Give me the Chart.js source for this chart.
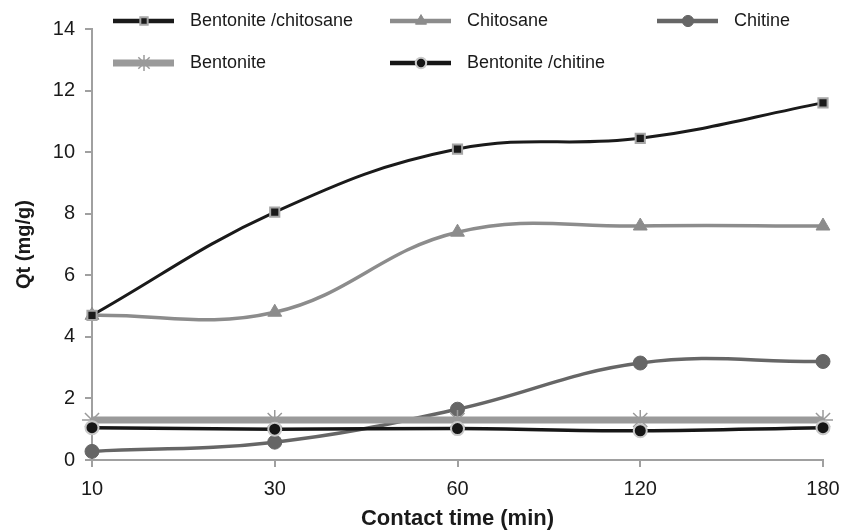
<!DOCTYPE html>
<html>
<head>
<meta charset="utf-8">
<script src="https://cdn.jsdelivr.net/npm/chart.js@4/dist/chart.umd.min.js"></script>
<style>
  html, body { margin: 0; padding: 0; background: #fff; }
  #wrap { width: 843px; height: 532px; position: relative; }
</style>
</head>
<body>
<div id="wrap"><canvas id="c" width="843" height="532"></canvas></div>
<script>
// Contact time categories (min)
const contactTimes = ['10', '30', '60', '120', '180'];

// Adsorbed quantity Qt (mg/g) per adsorbent
const bentoniteChitosane = [4.7, 8.05, 10.1, 10.45, 11.6];
const chitosane = [4.7, 4.8, 7.4, 7.6, 7.6];
const chitine = [0.28, 0.58, 1.65, 3.15, 3.2];
const bentonite = [1.3, 1.3, 1.3, 1.3, 1.3];
const bentoniteChitine = [1.05, 1.0, 1.02, 0.95, 1.05];

const FONT = '"Liberation Sans", Arial, sans-serif';

// Legend laid out in a fixed grid over the top of the plot
const legendSlots = [
  { x: 113, y: 21 }, { x: 390, y: 21 }, { x: 657, y: 21 },
  { x: 113, y: 63 }, { x: 390, y: 63 }
];

function drawMarker(ctx, ds, x, y, scale) {
  const opts = {
    pointStyle: ds.pointStyle, radius: ds.pointRadius * scale, rotation: 0,
    borderWidth: ds.pointBorderWidth
  };
  ctx.save();
  ctx.fillStyle = ds.pointBackgroundColor;
  ctx.strokeStyle = ds.pointBorderColor;
  ctx.lineWidth = ds.pointBorderWidth;
  Chart.helpers.drawPoint(ctx, opts, x, y);
  ctx.restore();
}

const gridLegend = {
  id: 'gridLegend',
  afterDraw(chart) {
    const ctx = chart.ctx;
    chart.data.datasets.forEach((ds, i) => {
      const s = legendSlots[i];
      ctx.save();
      ctx.strokeStyle = ds.borderColor;
      ctx.lineWidth = Math.max(ds.borderWidth, 4.5);
      ctx.beginPath();
      ctx.moveTo(s.x, s.y);
      ctx.lineTo(s.x + 61, s.y);
      ctx.stroke();
      ctx.restore();
      drawMarker(ctx, ds, s.x + 31, s.y, 0.8);
      ctx.save();
      ctx.fillStyle = '#1a1a1a';
      ctx.font = '18px ' + FONT;
      ctx.textBaseline = 'middle';
      ctx.fillText(ds.label, s.x + 77, s.y);
      ctx.restore();
    });
  }
};

new Chart(document.getElementById('c'), {
  type: 'line',
  data: {
    labels: contactTimes,
    datasets: [
      {
        label: 'Bentonite /chitosane', data: bentoniteChitosane,
        borderColor: '#1a1a1a', borderWidth: 3,
        pointStyle: 'rect', pointRadius: 6.5, pointBorderWidth: 2,
        pointBackgroundColor: '#1a1a1a', pointBorderColor: '#a6a6a6', order: 1
      },
      {
        label: 'Chitosane', data: chitosane,
        borderColor: '#8c8c8c', borderWidth: 3.5,
        pointStyle: 'triangle', pointRadius: 8, pointBorderWidth: 1,
        pointBackgroundColor: '#8c8c8c', pointBorderColor: '#8c8c8c', order: 2
      },
      {
        label: 'Chitine', data: chitine,
        borderColor: '#666666', borderWidth: 3.5,
        pointStyle: 'circle', pointRadius: 7, pointBorderWidth: 1,
        pointBackgroundColor: '#666666', pointBorderColor: '#666666', order: 5
      },
      {
        label: 'Bentonite', data: bentonite,
        borderColor: '#9a9a9a', borderWidth: 7,
        pointStyle: 'star', pointRadius: 10, pointBorderWidth: 1.5,
        pointBackgroundColor: '#9a9a9a', pointBorderColor: '#9a9a9a', order: 4
      },
      {
        label: 'Bentonite /chitine', data: bentoniteChitine,
        borderColor: '#161616', borderWidth: 3.5,
        pointStyle: 'circle', pointRadius: 6.5, pointBorderWidth: 2,
        pointBackgroundColor: '#161616', pointBorderColor: '#c8c8c8', order: 3
      }
    ]
  },
  options: {
    responsive: false,
    animation: false,
    devicePixelRatio: 1,
    layout: { padding: { top: 29, right: 20, left: 0, bottom: 0 } },
    elements: { line: { tension: 0.4, fill: false } },
    plugins: { legend: { display: false }, tooltip: { enabled: false } },
    scales: {
      x: {
        offset: false,
        grid: { display: true, drawOnChartArea: false, drawTicks: true, tickLength: 7, color: '#a0a0a0', lineWidth: 2 },
        border: { display: true, color: '#a0a0a0', width: 2 },
        ticks: { color: '#1a1a1a', font: { family: FONT, size: 20 }, padding: 10, maxRotation: 0 },
        title: { display: true, text: 'Contact time (min)', color: '#1a1a1a', font: { family: FONT, size: 22, weight: 'bold' }, padding: { top: 2, bottom: 0 } },
        afterFit(s) { s.height = 72; s.paddingLeft = 0; s.paddingRight = 0; }
      },
      y: {
        min: 0, max: 14,
        grid: { display: true, drawOnChartArea: false, drawTicks: true, tickLength: 7, color: '#a0a0a0', lineWidth: 2 },
        border: { display: true, color: '#a0a0a0', width: 2 },
        ticks: { stepSize: 2, color: '#1a1a1a', font: { family: FONT, size: 20 }, padding: 10 },
        title: { display: true, text: 'Qt (mg/g)', color: '#1a1a1a', font: { family: FONT, size: 20, weight: 'bold' }, padding: { top: 12, bottom: 6 } },
        afterFit(s) { s.width = 92; s.paddingTop = 0; s.paddingBottom = 0; }
      }
    }
  },
  plugins: [gridLegend]
});
</script>
</body>
</html>
